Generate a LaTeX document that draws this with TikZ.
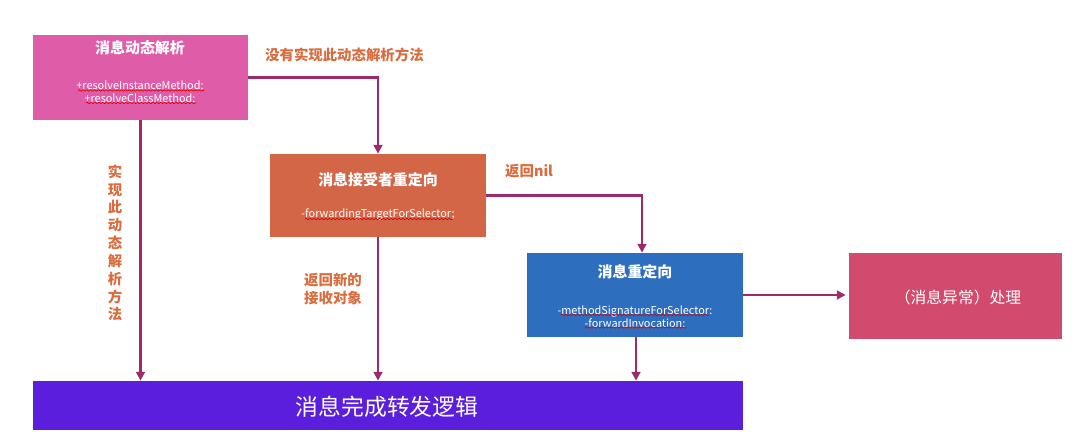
\documentclass[tikz,border=0pt]{standalone}
\usepackage{fontspec}
\setmainfont{Noto Sans CJK SC}
\usetikzlibrary{arrows.meta,decorations.pathmorphing}
\definecolor{cpink}{HTML}{DE5CA8}
\definecolor{corange}{HTML}{D46648}
\definecolor{cblue}{HTML}{2E6EBE}
\definecolor{crose}{HTML}{D24B6E}
\definecolor{cpurple}{HTML}{5B1EDD}
\definecolor{carrow}{HTML}{9E2A6B}
\definecolor{clabel}{HTML}{D96B3C}
\tikzset{
  title/.style={font=\fontsize{8.5}{10}\selectfont\bfseries, text=white},
  meth/.style={font=\fontsize{6.2}{7.2}\selectfont, text=white, align=center},
  lbl/.style={font=\fontsize{8.2}{10}\selectfont\bfseries, text=clabel, align=center},
  conn/.style={draw=carrow, line width=1.4pt, -{Triangle[length=5pt,width=5pt]}},
  wavy/.style={draw=red!85!black, line width=0.35pt, decorate, decoration={snake, amplitude=0.4pt, segment length=2.2pt}}
}
\begin{document}
\begin{tikzpicture}[x=0.02cm, y=-0.02cm]
\useasboundingbox (0,0) rectangle (1080,442);
% boxes
\fill[cpink] (33,35) rectangle (248,120);
\node (b1) at (140.5,77.5) [minimum width=215*0.02cm, minimum height=85*0.02cm, inner sep=0pt] {};
\node[title] (t1) at (140,48) {消息动态解析};
\node[meth] (m1) at (140,91.5) {+resolveInstanceMethod:\\+resolveClassMethod:};

\fill[corange] (270,154) rectangle (486,237);
\node (b2) at (378,195.5) [minimum width=216*0.02cm, minimum height=83*0.02cm, inner sep=0pt] {};
\node[title] (t2) at (378,180) {消息接受者重定向};
\node[meth] (m2) at (378,214) {-forwardingTargetForSelector;};

\fill[cblue] (527,253) rectangle (743,337);
\node (b3) at (635,295) [minimum width=216*0.02cm, minimum height=84*0.02cm, inner sep=0pt] {};
\node[title] (t3) at (635,272) {消息重定向};
\node[meth] (m3) at (635,316.5) {-methodSignatureForSelector:\\-forwardInvocation:};

\fill[crose] (849,253) rectangle (1062,339);
\node (b4) at (955.5,296) [minimum width=213*0.02cm, minimum height=86*0.02cm, inner sep=0pt] {};
\node[font=\fontsize{9}{10}\selectfont, text=white] (t4) at (958,297) {（消息异常）处理};

\fill[cpurple] (33,381) rectangle (743,430);
\node (bot) at (388,405.5) [minimum width=710*0.02cm, minimum height=49*0.02cm, inner sep=0pt] {};
\node[font=\fontsize{13}{14}\selectfont, text=white] (t5) at (387,407) {消息完成转发逻辑};

% wavy spell-check underlines
\draw[wavy] (78,90.5) -- (204,90.5);
\draw[wavy] (86,103) -- (196,103);
\draw[wavy] (305,219) -- (453,219);
\draw[wavy] (561,315) -- (709,315);
\draw[wavy] (585,327.5) -- (686,327.5);

% connectors
\draw[conn] (b1.east) -| (b2.north);
\draw[conn] (b2.east) -| ([xshift=0.14cm]b3.north);
\draw[conn] (b3.east) -- ([xshift=-0.06cm]b3.east -| b4.west);
\draw[conn] (b1.south) -- (b1.south |- bot.north);
\draw[conn] (b2.south) -- (b2.south |- bot.north);
\draw[conn] ([xshift=0.02cm]b3.south) -- ([xshift=0.02cm]b3.south |- bot.north);

% labels
\node[lbl, anchor=west] (l1) at (259,55) {没有实现此动态解析方法};
\node[lbl, anchor=west] (l2) at (499,171) {返回nil};
\node[lbl, font=\fontsize{8.2}{10.15}\selectfont\bfseries] (l3) at (115,243) {实\\现\\此\\动\\态\\解\\析\\方\\法};
\node[lbl, font=\fontsize{8.2}{10.2}\selectfont\bfseries] (l4) at (333,289) {返回新的\\接收对象};
\end{tikzpicture}
\end{document}
